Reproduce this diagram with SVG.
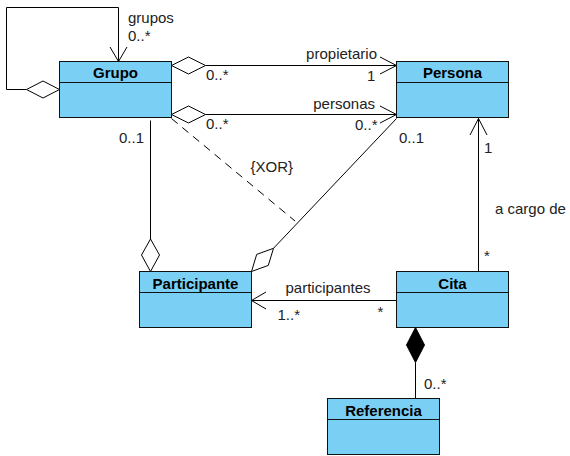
<svg xmlns="http://www.w3.org/2000/svg" width="570" height="456" viewBox="0 0 570 456">
<style>
.box{fill:#7ACFF5;stroke:#111;stroke-width:1}
.div{stroke:#111;stroke-width:1}
.title{font-family:"Liberation Sans",Arial,sans-serif;font-size:15px;font-weight:bold;fill:#000;text-anchor:middle}
.lbl{font-family:"Liberation Sans",Arial,sans-serif;font-size:15px;fill:#222}
.ln{fill:none;stroke:#000;stroke-width:1}
.dia{fill:#fff;stroke:#000;stroke-width:1}
.fdia{fill:#000;stroke:#000;stroke-width:1}
</style>
<rect width="570" height="456" fill="#fff"/>
<g id="connectors">
  <!-- self loop Grupo -->
  <path class="ln" d="M26.5 89.5 H6.5 V7.5 H118.5 V61.5"/>
  <path class="ln" d="M110 47 L118.5 61.5 L127 47"/>
  <polygon class="dia" points="59.5,89.5 43,81 26.5,89.5 43,98"/>
  <text class="lbl" x="128" y="23">grupos</text>
  <text class="lbl" x="128" y="41">0..*</text>
  <!-- propietario -->
  <path class="ln" d="M205.5 65.5 H396.5"/>
  <polygon class="dia" points="171.5,65.5 188.5,57 205.5,65.5 188.5,74"/>
  <path class="ln" d="M380 57 L396.5 65.5 L380 74"/>
  <text class="lbl" x="377" y="59" text-anchor="end">propietario</text>
  <text class="lbl" x="367" y="81">1</text>
  <text class="lbl" x="206" y="80">0..*</text>
  <!-- personas -->
  <path class="ln" d="M205.5 114.5 H396.5"/>
  <polygon class="dia" points="171.5,114.5 188.5,106 205.5,114.5 188.5,123"/>
  <path class="ln" d="M380 106 L396.5 114.5 L380 123"/>
  <text class="lbl" x="375" y="109" text-anchor="end">personas</text>
  <text class="lbl" x="355" y="130">0..*</text>
  <text class="lbl" x="206" y="129">0..*</text>
  <!-- Grupo - Participante -->
  <path class="ln" d="M150.5 120.5 V239"/>
  <polygon class="dia" points="150.5,239 159.5,255 150.5,271.5 141.5,255"/>
  <text class="lbl" x="119" y="143">0..1</text>
  <!-- Persona - Participante -->
  <path class="ln" d="M396.5 118.5 L273.5 248.3"/>
  <polygon class="dia" points="273.5,248.3 268.3,265.4 251.5,271.5 256.7,254.4"/>
  <text class="lbl" x="399" y="143">0..1</text>
  <!-- XOR -->
  <path class="ln" d="M171.5 118.5 L295 221" stroke-dasharray="8,6"/>
  <text class="lbl" x="250.5" y="172">{XOR}</text>
  <!-- Cita - Persona -->
  <path class="ln" d="M478.5 271.5 V118.5"/>
  <path class="ln" d="M470 135 L478.5 118.5 L487 135"/>
  <text class="lbl" x="484" y="153">1</text>
  <text class="lbl" x="495" y="214">a cargo de</text>
  <text class="lbl" x="484" y="261">*</text>
  <!-- Cita - Participante -->
  <path class="ln" d="M396.5 300.5 H251.5"/>
  <path class="ln" d="M266 292 L251.5 300.5 L266 309"/>
  <text class="lbl" x="285.5" y="293">participantes</text>
  <text class="lbl" x="277.5" y="320">1..*</text>
  <text class="lbl" x="377.5" y="317">*</text>
  <!-- Cita - Referencia -->
  <path class="ln" d="M415.5 362.5 V398.5"/>
  <polygon class="fdia" points="415.5,327.5 424.5,345 415.5,362.5 406.5,345"/>
  <text class="lbl" x="424" y="389">0..*</text>
</g>
<g id="Grupo">
  <rect class="box" x="59.5" y="61.5" width="112" height="56"/>
  <line class="div" x1="59.5" y1="82.5" x2="171.5" y2="82.5"/>
  <text class="title" x="115.5" y="78">Grupo</text>
</g>
<g id="Persona">
  <rect class="box" x="396.5" y="61.5" width="112" height="56"/>
  <line class="div" x1="396.5" y1="82.5" x2="508.5" y2="82.5"/>
  <text class="title" x="452.5" y="78">Persona</text>
</g>
<g id="Participante">
  <rect class="box" x="139.5" y="271.5" width="112" height="56"/>
  <line class="div" x1="139.5" y1="292.5" x2="251.5" y2="292.5"/>
  <text class="title" x="195.5" y="289">Participante</text>
</g>
<g id="Cita">
  <rect class="box" x="396.5" y="271.5" width="112" height="56"/>
  <line class="div" x1="396.5" y1="292.5" x2="508.5" y2="292.5"/>
  <text class="title" x="452.5" y="289">Cita</text>
</g>
<g id="Referencia">
  <rect class="box" x="327.5" y="398.5" width="112" height="56"/>
  <line class="div" x1="327.5" y1="419.5" x2="439.5" y2="419.5"/>
  <text class="title" x="383.5" y="416">Referencia</text>
</g>
</svg>
